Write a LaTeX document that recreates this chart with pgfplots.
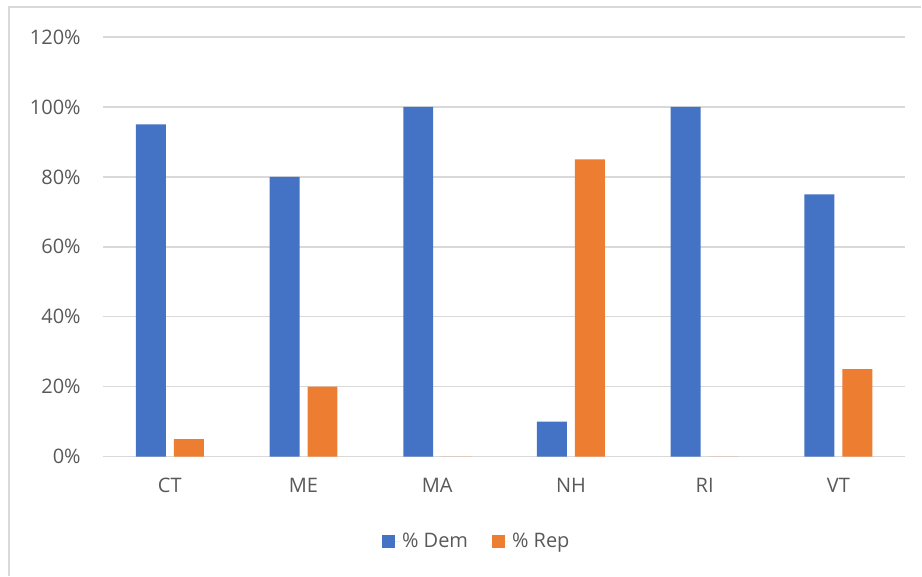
\documentclass[border=0pt]{standalone}
\usepackage{pgfplots}
\pgfplotsset{compat=1.18}
\usepackage{fontspec}
\setmainfont{Open Sans}

\definecolor{demblue}{HTML}{4472C4}
\definecolor{reporange}{HTML}{ED7D31}
\definecolor{gridgray}{HTML}{D9D9D9}
\definecolor{labelgray}{HTML}{595959}

\pgfplotstableread{
idx  dem  rep
0    95   5
1    80   20
2    100  0
3    10   85
4    100  0
5    75   25
}\statedata

\begin{document}
\begin{tikzpicture}
  % page frame and chart border (left and top edges)
  \path (0pt,0pt) rectangle (691.5pt,432pt);
  \draw[gridgray, line width=1.1pt] (6.75pt,0pt) -- (6.75pt,426.75pt) -- (691.5pt,426.75pt);
  \begin{axis}[
    at={(77.25pt,89.25pt)}, anchor=south west,
    scale only axis,
    width=602.25pt, height=315pt,
    ybar,
    xmin=-0.5, xmax=5.5,
    ymin=0, ymax=120,
    ytick={0,20,...,120},
    xtick={0,...,5},
    xticklabels={CT,ME,MA,NH,RI,VT},
    yticklabel={\pgfmathprintnumber{\tick}\%},
    /pgf/number format/assume math mode=true,
    ymajorgrids,
    grid style={gridgray, line width=1.1pt},
    axis line style={draw=none},
    major tick length=0pt,
    tick label style={font=\fontsize{15}{18}\selectfont, text=labelgray},
    yticklabel style={inner sep=0pt, anchor=east, xshift=-16.5pt},
    xticklabel style={inner sep=0pt, anchor=north, yshift=-16pt},
    bar width=22.5pt,
    legend columns=-1,
    legend style={
      at={(0.4664,-0.2024)}, anchor=center,
      draw=none, fill=none,
      font=\fontsize{15}{18}\selectfont, text=labelgray,
      /tikz/every even column/.append style={column sep=16pt},
    },
    legend cell align=left,
  ]
    \addplot[fill=demblue, draw=none, bar shift=-14.25pt,
      legend image code/.code={%
        \fill[demblue] (0pt,-4.9pt) rectangle (9.75pt,4.9pt);
        \path (0pt,0pt) -- (13pt,0pt);}]
      table[x=idx, y=dem] {\statedata};
    \addlegendentry{\% Dem}
    \addplot[fill=reporange, draw=none, bar shift=14.25pt,
      legend image code/.code={%
        \fill[reporange] (0pt,-4.9pt) rectangle (9.75pt,4.9pt);
        \path (0pt,0pt) -- (13pt,0pt);}]
      table[x=idx, y=rep] {\statedata};
    \addlegendentry{\% Rep}
  \end{axis}
\end{tikzpicture}
\end{document}
